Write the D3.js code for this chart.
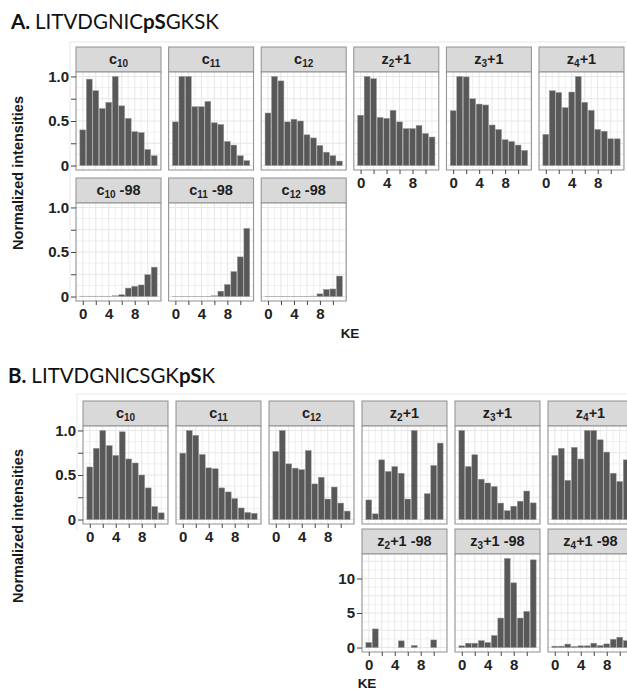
<!DOCTYPE html>
<html>
<head>
<meta charset="utf-8">
<script src="https://cdn.jsdelivr.net/npm/d3@7"></script>
<style>
  body { margin: 0; background: #fff; }
  svg { display: block; }
</style>
</head>
<body>
<div id="chart"></div>
<script>
// KE levels (x categories) and tick labels
const ke = [0, 1, 2, 3, 4, 5, 6, 7, 8, 9, 10, 11];
const xTickMarks = [0, 2, 4, 6, 8, 10];
const xTickLabels = [0, 4, 8];
const normTickMarks = [0, 0.25, 0.5, 0.75, 1];
const normTickLabels = [0, 0.5, 1];
const lossTickMarks = [0, 5, 10];
const lossTickLabels = [0, 5, 10];

// strip labels: [base, subscript, suffix]
const labC10 = ["c", "10", ""], labC11 = ["c", "11", ""], labC12 = ["c", "12", ""];
const labZ2 = ["z", "2", "+1"], labZ3 = ["z", "3", "+1"], labZ4 = ["z", "4", "+1"];
const labC10m = ["c", "10", " -98"], labC11m = ["c", "11", " -98"], labC12m = ["c", "12", " -98"];
const labZ2m = ["z", "2", "+1 -98"], labZ3m = ["z", "3", "+1 -98"], labZ4m = ["z", "4", "+1 -98"];

// A. LITVDGNICpSGKSK
const aC10 = [0.40, 0.97, 0.84, 0.64, 0.71, 1.00, 0.67, 0.53, 0.38, 0.37, 0.18, 0.11];
const aC11 = [0.49, 1.00, 1.00, 0.66, 0.66, 0.72, 0.48, 0.46, 0.27, 0.23, 0.11, 0.055];
const aC12 = [0.59, 1.00, 0.95, 0.49, 0.52, 0.50, 0.345, 0.31, 0.225, 0.15, 0.11, 0.05];
const aZ2 = [0.565, 1.00, 0.975, 0.54, 0.53, 0.62, 0.49, 0.415, 0.415, 0.45, 0.36, 0.32];
const aZ3 = [0.615, 1.00, 0.995, 0.75, 0.69, 0.68, 0.455, 0.405, 0.29, 0.27, 0.23, 0.17];
const aZ4 = [0.35, 0.84, 0.82, 0.65, 0.825, 1.00, 0.71, 0.62, 0.405, 0.385, 0.30, 0.30];
const aC10m = [0.004, 0.004, 0.004, 0.004, 0.004, 0.01, 0.02, 0.095, 0.115, 0.13, 0.245, 0.33];
const aC11m = [0.003, 0.003, 0.003, 0.003, 0.003, 0.003, 0.01, 0.06, 0.135, 0.28, 0.445, 0.765];
const aC12m = [0.003, 0.003, 0.003, 0.003, 0.003, 0.003, 0.003, 0.005, 0.03, 0.08, 0.085, 0.23];

// B. LITVDGNICSGKpSK
const bC10 = [0.59, 0.80, 1.00, 0.83, 0.72, 0.985, 0.68, 0.635, 0.50, 0.355, 0.146, 0.075];
const bC11 = [0.745, 1.00, 0.945, 0.73, 0.58, 0.57, 0.355, 0.31, 0.235, 0.13, 0.08, 0.07];
const bC12 = [0.765, 1.00, 0.625, 0.577, 0.56, 0.775, 0.40, 0.475, 0.23, 0.365, 0.185, 0.095];
const bZ2 = [0.22, 0.064, 0.67, 0.54, 0.595, 0.52, 0.23, 1.00, 0, 0.29, 0.607, 0.858];
const bZ3 = [1.00, 0.595, 0.727, 0.453, 0.41, 0.37, 0.185, 0.10, 0.15, 0.206, 0.32, 0.187];
const bZ4 = [0.72, 0.80, 0.44, 0.81, 0.68, 1.00, 1.00, 0.895, 0.757, 0.52, 0.427, 0.67];
const bZ2m = [0.73, 2.7, 0, 0, 0, 0.97, 0, 0.3, 0, 0, 1.1, 0];
const bZ3m = [0.25, 0.63, 0.63, 1.0, 0.73, 1.75, 4.27, 12.9, 9.37, 4.27, 5.24, 12.7];
const bZ4m = [0.2, 0.2, 0.5, 0.15, 0.25, 0.25, 0.63, 0.3, 0.53, 1.2, 1.5, 1.0];

const W = 627, H = 693;
const PW = 85, STRIP = 25, PH = 98;
const tickFont = "'Liberation Sans', Arial, sans-serif";

const svg = d3.select("#chart").append("svg")
  .attr("width", W).attr("height", H)
  .attr("viewBox", "0 0 " + W + " " + H);

const x = d3.scaleLinear().domain([-1.045, 12.045]).range([0, PW]);
const fmtNorm = d => d === 0 ? "0" : d3.format(".1f")(d);

function yScale(maxV) {
  const pad = maxV * 0.05;
  return d3.scaleLinear().domain([-pad, maxV + pad]).range([PH, 0]);
}

function drawPanel(left, top, label, values, y, gridStep, o) {
  const g = svg.append("g").attr("transform", "translate(" + left + "," + top + ")");
  // strip
  g.append("rect").attr("x", 0).attr("y", 0).attr("width", PW).attr("height", STRIP)
    .attr("fill", "#d9d9d9").attr("stroke", "#8f8f8f").attr("stroke-width", 1);
  const t = g.append("text").attr("x", PW / 2).attr("y", STRIP / 2 + 4)
    .attr("text-anchor", "middle")
    .style("font-family", tickFont).style("font-weight", "bold")
    .style("font-size", "14.5px").style("fill", "#1e1e1e");
  t.append("tspan").text(label[0]);
  t.append("tspan").attr("dy", 3).style("font-size", "10px").text(label[1]);
  t.append("tspan").attr("dy", -3).text(label[2]);

  const p = g.append("g").attr("transform", "translate(0," + STRIP + ")");
  p.append("rect").attr("width", PW).attr("height", PH).attr("fill", "#fff");
  // grid
  const d1 = y.domain()[1];
  const hLines = d3.range(0, d1, gridStep / 2);
  p.selectAll(".gh").data(hLines).enter().append("line")
    .attr("x1", 0).attr("x2", PW)
    .attr("y1", d => y(d)).attr("y2", d => y(d))
    .attr("stroke", "#e6e6e6")
    .attr("stroke-width", (d, i) => i % 2 === 0 ? 1 : 0.6);
  const vLines = d3.range(-1, 13).filter(v => v > x.domain()[0] && v < x.domain()[1]);
  p.selectAll(".gv").data(vLines).enter().append("line")
    .attr("y1", 0).attr("y2", PH)
    .attr("x1", d => x(d)).attr("x2", d => x(d))
    .attr("stroke", "#e6e6e6")
    .attr("stroke-width", d => d % 2 === 0 ? 1 : 0.6);
  // bars
  p.selectAll(".bar").data(ke.map((k, i) => ({ k, v: values[i] })).filter(d => d.v > 0))
    .enter().append("rect")
    .attr("x", d => x(d.k - 0.45))
    .attr("width", x(0.45) - x(-0.45))
    .attr("y", d => y(d.v))
    .attr("height", d => Math.max(0.4, y(0) - y(d.v)))
    .attr("fill", d => (y(0) - y(d.v)) < 1 ? "#b0b0b0" : "#585858")
    .attr("stroke", "#9a9a9a").attr("stroke-width", 0.5);
  p.append("rect").attr("width", PW).attr("height", PH)
    .attr("fill", "none").attr("stroke", "#8f8f8f").attr("stroke-width", 1);

  if (o.xAxis) {
    const ax = p.append("g").attr("transform", "translate(0," + PH + ")")
      .call(d3.axisBottom(x).tickValues(xTickMarks)
        .tickFormat(d => xTickLabels.includes(d) ? d : "")
        .tickSize(4).tickPadding(3));
    styleAxis(ax);
  }
  if (o.yAxis) {
    const ay = p.append("g")
      .call(d3.axisLeft(y).tickValues(o.yAxis.marks)
        .tickFormat(d => o.yAxis.labels.includes(d) ? o.yAxis.fmt(d) : "")
        .tickSize(5).tickPadding(2));
    styleAxis(ay);
  }
}

function styleAxis(a) {
  a.select(".domain").remove();
  a.selectAll("line").attr("stroke", "#444").attr("stroke-width", 1);
  a.selectAll("text").style("font-family", tickFont).style("font-weight", "bold")
    .style("font-size", "15px").style("fill", "#222");
}

function title(xp, yp, parts) {
  const t = svg.append("text").attr("x", xp).attr("y", yp)
    .style("font-family", "Lato, 'Open Sans', sans-serif").style("font-size", "20.5px")
    .style("fill", "#111");
  parts.forEach(p => t.append("tspan").style("font-weight", p[1] ? "bold" : "normal").text(p[0]));
}

function axisTitle(xp, yp, txt, rot, size) {
  svg.append("text")
    .attr("transform", "translate(" + xp + "," + yp + ")" + (rot ? " rotate(-90)" : ""))
    .attr("text-anchor", "middle")
    .style("font-family", tickFont).style("font-weight", "bold")
    .style("font-size", size).style("fill", "#1a1a1a")
    .text(txt);
}

const yNorm = yScale(1);
const normAxis = { marks: normTickMarks, labels: normTickLabels, fmt: fmtNorm };

// ---- section A ----
title(11, 29, [["A. ", true], ["LITVDGNIC", false], ["pS", true], ["GKSK", false]]);
svg.append("path").attr("d", "M627,42H70V303").attr("fill", "none").attr("stroke", "#e8e8e8");
const aLeft = i => 76 + i * 92.6;
const aRow1 = [[labC10, aC10], [labC11, aC11], [labC12, aC12], [labZ2, aZ2], [labZ3, aZ3], [labZ4, aZ4]];
aRow1.forEach((d, i) => drawPanel(aLeft(i), 47, d[0], d[1], yNorm, 0.25,
  { yAxis: i === 0 ? normAxis : null, xAxis: i >= 3 }));
const aRow2 = [[labC10m, aC10m], [labC11m, aC11m], [labC12m, aC12m]];
aRow2.forEach((d, i) => drawPanel(aLeft(i), 178, d[0], d[1], yNorm, 0.25,
  { yAxis: i === 0 ? normAxis : null, xAxis: true }));
axisTitle(23, 173, "Normalized intensities", true, "14.5px");
axisTitle(350, 338, "KE", false, "13.5px");

// ---- section B ----
title(8, 383, [["B. ", true], ["LITVDGNICSGK", false], ["pS", true], ["K", false]]);
svg.append("path").attr("d", "M627,394H77V530").attr("fill", "none").attr("stroke", "#e8e8e8");
const bLeft = i => 83 + i * 93;
const bRow1 = [[labC10, bC10], [labC11, bC11], [labC12, bC12], [labZ2, bZ2], [labZ3, bZ3], [labZ4, bZ4]];
bRow1.forEach((d, i) => drawPanel(bLeft(i), 401, d[0], d[1], yNorm, 0.25,
  { yAxis: i === 0 ? normAxis : null, xAxis: i < 3 }));
const yLoss = yScale(d3.max([bZ2m, bZ3m, bZ4m].flat()));
const lossAxis = { marks: lossTickMarks, labels: lossTickLabels, fmt: d => d };
const bRow2 = [[labZ2m, bZ2m], [labZ3m, bZ3m], [labZ4m, bZ4m]];
bRow2.forEach((d, i) => drawPanel(bLeft(i + 3), 529, d[0], d[1], yLoss, 2.5,
  { yAxis: i === 0 ? lossAxis : null, xAxis: true }));
axisTitle(23, 526, "Normalized intensities", true, "14.5px");
axisTitle(367, 688, "KE", false, "13.5px");
</script>
</body>
</html>
